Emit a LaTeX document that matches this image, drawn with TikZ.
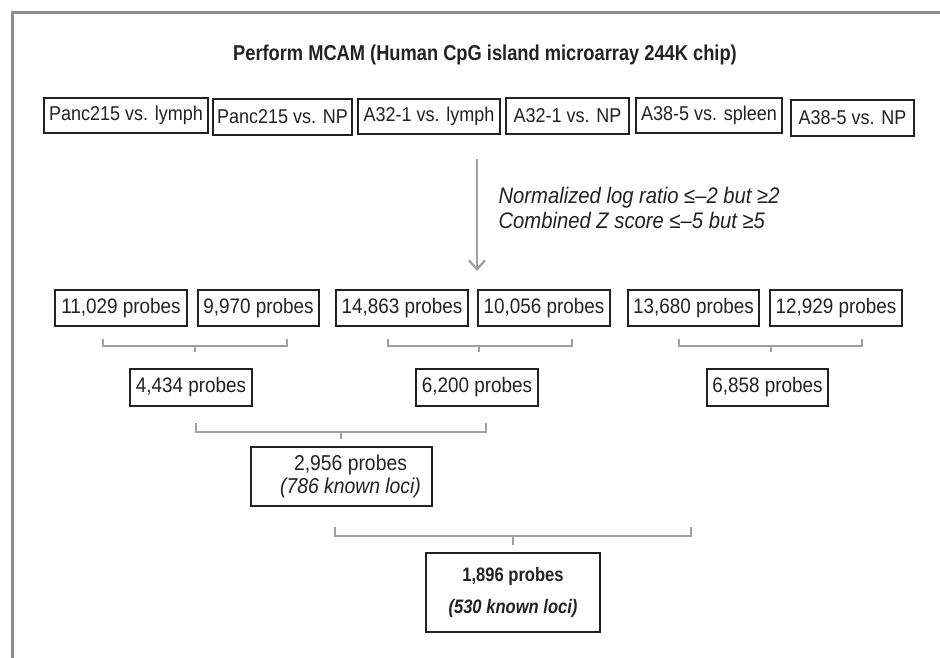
\documentclass[tikz,border=0pt]{standalone}
\usepackage{fontspec}
\setmainfont{Liberation Sans}[FakeStretch=0.9]
\newfontfamily\bcond{Liberation Sans}[FakeStretch=0.85]
\usetikzlibrary{arrows.meta}
\definecolor{framegray}{HTML}{8C8C8C}
\definecolor{brkgray}{HTML}{A0A0A0}
\definecolor{boxline}{HTML}{222222}
\begin{document}
\begin{tikzpicture}[x=1pt,y=-1pt,
  box/.style={draw=boxline,line width=1.6pt,inner sep=0pt,align=center,text=boxline},
  toprow/.style={box,font=\fontsize{20}{22}\selectfont,minimum height=35pt},
  probe/.style={box,font=\fontsize{21}{24}\selectfont,minimum height=36pt},
  brk/.style={draw=brkgray,line width=1.8pt},
  flowarrow/.style={draw=brkgray,line width=2.2pt,-{Straight Barb[length=9pt,width=16pt,line width=2.2pt]}},
  frameline/.style={draw=framegray,line width=3pt}
]
\useasboundingbox (0,0) rectangle (940,658);
\fill[white] (0,0) rectangle (940,658);
% frame
\coordinate (fr1) at (940,12.5);
\coordinate (fr2) at (12.5,12.5);
\coordinate (fr3) at (12.5,658);
\draw[frameline] (fr1) -- (fr2) -- (fr3);

% title
\node[font=\bcond\bfseries\fontsize{21.5}{24}\selectfont,text=boxline] (title) at (485,55) {Perform MCAM (Human CpG island microarray 244K chip)};

% top row
\node[toprow,minimum width=164pt] (t1) at (126,115.5) {Panc215 vs. lymph};
\node[toprow,minimum width=139pt,minimum height=36pt] (t2) at (282.5,117) {Panc215 vs. NP};
\node[toprow,minimum width=142pt] (t3) at (429,116.5) {A32-1 vs. lymph};
\node[toprow,minimum width=123pt,minimum height=36pt] (t4) at (567.5,116) {A32-1 vs. NP};
\node[toprow,minimum width=146pt] (t5) at (709,115.5) {A38-5 vs. spleen};
\node[toprow,minimum width=123pt,minimum height=36pt] (t6) at (852.5,118) {A38-5 vs. NP};

% arrow and criteria
\coordinate (ar1) at (477,159);
\coordinate (ar2) at (477,271);
\draw[flowarrow] (ar1) -- (ar2);
\node[anchor=west,align=left,font=\itshape\fontsize{22.5}{25}\selectfont,text=boxline] (crit) at (495,208)
  {Normalized log ratio ≤–2 but ≥2\\Combined Z score ≤–5 but ≥5};

% row 2
\node[probe,minimum width=132pt] (p1) at (121,308) {11,029 probes};
\node[probe,minimum width=121pt] (p2) at (258.5,308) {9,970 probes};
\node[probe,minimum width=132pt] (p3) at (402,308) {14,863 probes};
\node[probe,minimum width=132pt] (p4) at (544,308) {10,056 probes};
\node[probe,minimum width=131pt] (p5) at (693.5,308) {13,680 probes};
\node[probe,minimum width=132pt] (p6) at (836,308) {12,929 probes};

% row 3
\node[probe,minimum width=122pt,minimum height=37pt] (q1) at (191,387.5) {4,434 probes};
\node[probe,minimum width=122pt,minimum height=37pt] (q2) at (477,387.5) {6,200 probes};
\node[probe,minimum width=121pt,minimum height=37pt] (q3) at (767.5,387.5) {6,858 probes};

% intersection box
\node[probe,minimum width=181pt,minimum height=59pt,font=\fontsize{21.5}{23}\selectfont] (r) at (341.5,476.5)
  {\hspace*{18pt}2,956 probes\\\hspace*{18pt}\textit{(786 known loci)}};

% final box
\node[box,minimum width=174pt,minimum height=79pt,font=\bcond\bfseries\fontsize{19.5}{32}\selectfont] (f) at (513,592.5)
  {1,896 probes\\\textit{(530 known loci)}};

% brackets
\coordinate (b1a) at (103,339); \coordinate (b1b) at (287,339);
\coordinate (b1m) at (195,346); \coordinate (b1t) at (195,352);
\draw[brk] (b1a) |- (b1m) -| (b1b);
\draw[brk] (b1m) -- (b1t);

\coordinate (b2a) at (388,339); \coordinate (b2b) at (572,339);
\coordinate (b2m) at (479,346); \coordinate (b2t) at (479,352);
\draw[brk] (b2a) |- (b2m) -| (b2b);
\draw[brk] (b2m) -- (b2t);

\coordinate (b3a) at (679,339); \coordinate (b3b) at (862,339);
\coordinate (b3m) at (771,346); \coordinate (b3t) at (771,352);
\draw[brk] (b3a) |- (b3m) -| (b3b);
\draw[brk] (b3m) -- (b3t);

\coordinate (b4a) at (196,423); \coordinate (b4b) at (486,423);
\coordinate (b4m) at (341,432); \coordinate (b4t) at (341,439);
\draw[brk] (b4a) |- (b4m) -| (b4b);
\draw[brk] (b4m) -- (b4t);

\coordinate (b5a) at (335,527); \coordinate (b5b) at (691,527);
\coordinate (b5m) at (513,536); \coordinate (b5t) at (513,545);
\draw[brk] (b5a) |- (b5m) -| (b5b);
\draw[brk] (b5m) -- (b5t);
\end{tikzpicture}
\end{document}
